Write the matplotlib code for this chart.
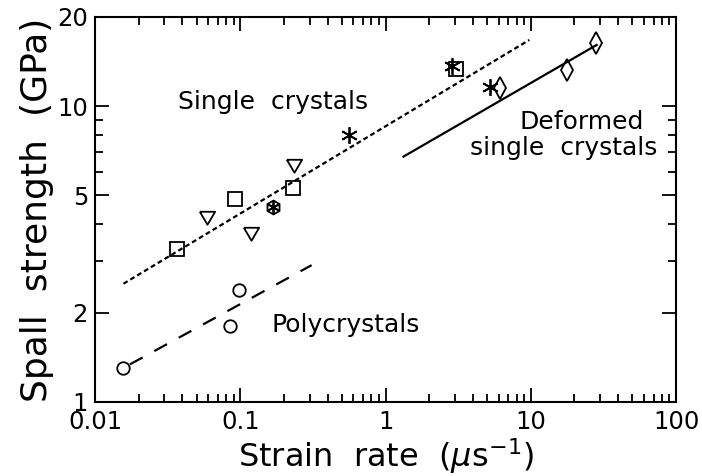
import numpy as np
import matplotlib.pyplot as plt
from matplotlib.ticker import FixedLocator, NullFormatter

plt.rcParams.update({'font.family': 'DejaVu Sans', 'mathtext.fontset': 'dejavusans'})

# measured spall strengths (GPa) vs strain rate (1/us)
sq_rate = [0.0365, 0.092, 0.232, 3.06]
sq_spall = [3.29, 4.84, 5.28, 13.3]
tri_rate = [0.0593, 0.1186, 0.2355]
tri_spall = [4.23, 3.73, 6.32]
star_rate = [0.564, 2.86, 5.24]
star_spall = [7.99, 13.66, 11.63]
hex_rate = [0.169]
hex_spall = [4.57]
circ_rate = [0.0155, 0.085, 0.0985]
circ_spall = [1.30, 1.80, 2.39]
dia_rate = [6.14, 17.7, 28.1]
dia_spall = [11.48, 13.24, 16.3]

# fitted trend lines (end points)
single_fit_x = [0.0157, 9.77]
single_fit_y = [2.51, 16.73]
poly_fit_x = [0.0174, 0.31]
poly_fit_y = [1.34, 2.90]
deformed_fit_x = [1.33, 28.4]
deformed_fit_y = [6.75, 16.09]

xticks = [0.01, 0.1, 1, 10, 100]
xticklabels = ['0.01', '0.1', '1', '10', '100']
yticks = [1, 2, 5, 10, 20]
yticklabels = ['1', '2', '5', '10', '20']
yminor = [3, 4, 6, 7, 8, 9]

fig = plt.figure(figsize=(7.02, 4.76), dpi=100)
ax = fig.add_axes([0.1353, 0.1555, 0.8277, 0.8088])
ax.set_xscale('log')
ax.set_yscale('log')

lw = 1.6
ax.plot(single_fit_x, single_fit_y, color='k', lw=lw, linestyle=(0, (2.2, 1.4)))
ax.plot(poly_fit_x, poly_fit_y, color='k', lw=lw, linestyle=(0, (6.5, 6)))
ax.plot(deformed_fit_x, deformed_fit_y, color='k', lw=lw)

mk = dict(linestyle='none', mfc='none', mec='k', mew=1.3)
tri = [(-1, 0.75), (1, 0.75), (0, -0.95), (-1, 0.75)]
ax.plot(sq_rate, sq_spall, marker='s', ms=9.5, **mk)
ax.plot(tri_rate, tri_spall, marker=tri, ms=11, **mk)
ax.plot(star_rate, star_spall, marker=(6, 2, 0), ms=12, **mk)
ax.plot(hex_rate, hex_spall, marker='h', ms=10, **mk)
ax.plot(hex_rate, hex_spall, marker=(6, 2, 0), ms=10, **mk)
ax.plot(circ_rate, circ_spall, marker='o', ms=9, **mk)
ax.plot(dia_rate, dia_spall, marker='d', ms=11, **mk)

ax.text(0.168, 10.3, 'Single  crystals', fontsize=18, ha='center', va='center')
ax.text(0.1654, 1.82, 'Polycrystals', fontsize=18, ha='left', va='center')
ax.text(22.5, 8.84, 'Deformed', fontsize=18, ha='center', va='center')
ax.text(16.8, 7.22, 'single  crystals', fontsize=18, ha='center', va='center')

ax.set_xlim(0.01, 100)
ax.set_ylim(1, 20)
ax.xaxis.set_major_locator(FixedLocator(xticks))
ax.set_xticklabels(xticklabels)
ax.yaxis.set_major_locator(FixedLocator(yticks))
ax.set_yticklabels(yticklabels)
ax.yaxis.set_minor_locator(FixedLocator(yminor))
ax.yaxis.set_minor_formatter(NullFormatter())
ax.xaxis.set_minor_formatter(NullFormatter())

ax.tick_params(which='both', direction='in', top=True, right=True, labelsize=17.5, width=1.3)
ax.tick_params(which='major', length=10, pad=5)
ax.tick_params(which='minor', length=6)
ax.tick_params(axis='x', which='major', pad=6)
for s in ax.spines.values():
    s.set_linewidth(1.5)

ax.set_xlabel(r'Strain  rate  ($\mu$s$^{-1}$)', fontsize=23)
ax.set_ylabel('Spall  strength  (GPa)', fontsize=26)
ax.xaxis.set_label_coords(0.5, -0.088)
ax.yaxis.set_label_coords(-0.07, 0.5)

fig.savefig('out.png', dpi=100)
